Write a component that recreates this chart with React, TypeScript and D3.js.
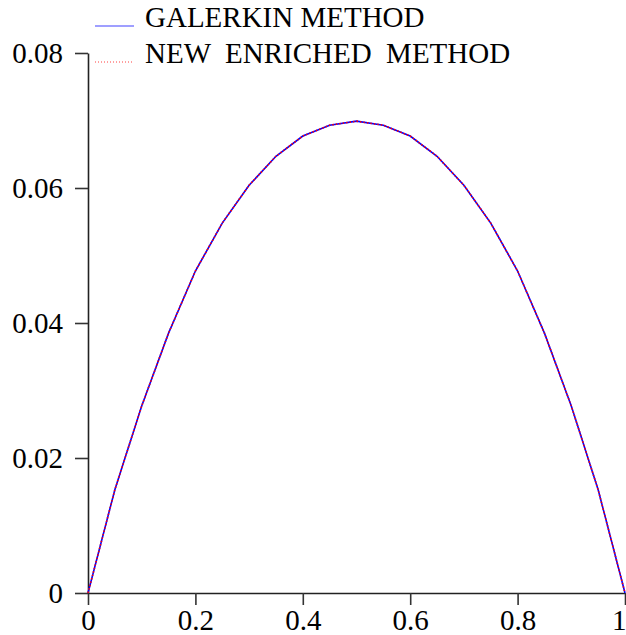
import React, { useEffect, useRef } from 'react';
import * as d3 from 'd3';

const xs = [0, 0.05, 0.1, 0.15, 0.2, 0.25, 0.3, 0.35, 0.4, 0.45, 0.5, 0.55, 0.6, 0.65, 0.7, 0.75, 0.8, 0.85, 0.9, 0.95, 1];
const galerkin = [0, 0.0153, 0.0277, 0.0385, 0.0477, 0.0548, 0.0604, 0.0647, 0.0677, 0.0693, 0.0699, 0.0693, 0.0677, 0.0647, 0.0604, 0.0548, 0.0477, 0.0385, 0.0277, 0.0153, 0];
const enriched = [0, 0.0153, 0.0277, 0.0385, 0.0477, 0.0548, 0.0604, 0.0647, 0.0677, 0.0693, 0.0699, 0.0693, 0.0677, 0.0647, 0.0604, 0.0548, 0.0477, 0.0385, 0.0277, 0.0153, 0];
const xTicks = [0, 0.2, 0.4, 0.6, 0.8, 1];
const yTicks = [0, 0.02, 0.04, 0.06, 0.08];
const legendLabels = ['GALERKIN METHOD', 'NEW  ENRICHED  METHOD'];

export default function App() {
  const svgRef = useRef<SVGSVGElement>(null);

  useEffect(() => {
    const svg = d3.select(svgRef.current);
    svg.selectAll('*').remove();

    const width = 626, height = 635;
    const left = 88, right = 625, top = 53, bottom = 593;
    const font = '"Liberation Serif", "Times New Roman", serif';

    const x = d3.scaleLinear().domain([0, 1]).range([left, right]);
    const y = d3.scaleLinear().domain([0, 0.08]).range([bottom, top]);

    svg.attr('width', width).attr('height', height);

    // axes
    const xAxis = svg.append('g').attr('transform', `translate(0,${bottom})`)
      .call(d3.axisBottom(x).tickValues(xTicks).tickSize(12).tickSizeOuter(0).tickPadding(2)
        .tickFormat(d => String(+d)));
    const yAxis = svg.append('g').attr('transform', `translate(${left},0)`)
      .call(d3.axisLeft(y).tickValues(yTicks).tickSize(13).tickSizeOuter(0).tickPadding(12)
        .tickFormat(d => String(+d)));
    [xAxis, yAxis].forEach(a => {
      a.select('.domain').attr('stroke', '#222').attr('stroke-width', 1.6);
      a.selectAll('.tick line').attr('stroke', '#333').attr('stroke-width', 1.6);
      a.selectAll('.tick text').attr('fill', '#000').style('font-family', font).style('font-size', '29px');
    });
    yAxis.selectAll('.tick text').attr('dy', '0.34em');
    xAxis.selectAll('.tick text').attr('dy', '0.78em');
    // last x label sits against the right edge
    xAxis.selectAll<SVGTextElement, number>('.tick text')
      .filter(d => d === 1).attr('text-anchor', 'end').attr('x', 1);

    const line = d3.line<number>().x((_, i) => x(xs[i])).y(d => y(d));

    svg.append('path').datum(galerkin).attr('d', line)
      .attr('fill', 'none').attr('stroke', '#0000ff').attr('stroke-width', 1.6);
    svg.append('path').datum(enriched).attr('d', line)
      .attr('fill', 'none').attr('stroke', '#ff0000').attr('stroke-width', 1.6).attr('stroke-dasharray', '1.5,2');

    // legend
    const lg = svg.append('g');
    const styles = [
      { stroke: '#4040ff', dash: null, w: 1.2 },
      { stroke: '#ff4040', dash: '1,2', w: 1 },
    ];
    legendLabels.forEach((lab, i) => {
      const yy = 26 + i * 36;
      lg.append('line').attr('x1', 95).attr('x2', 134).attr('y1', yy).attr('y2', yy)
        .attr('stroke', styles[i].stroke).attr('stroke-width', styles[i].w)
        .attr('stroke-dasharray', styles[i].dash);
      lg.append('text').attr('x', 145).attr('y', yy + 1)
        .attr('xml:space', 'preserve').style('white-space', 'pre')
        .style('font-family', font).style('font-size', '29px').attr('fill', '#000')
        .text(lab);
    });
  }, []);

  return (
    <div style={{ position: 'absolute', left: 0, top: 0 }}>
      <svg ref={svgRef} style={{ display: 'block' }} />
    </div>
  );
}
